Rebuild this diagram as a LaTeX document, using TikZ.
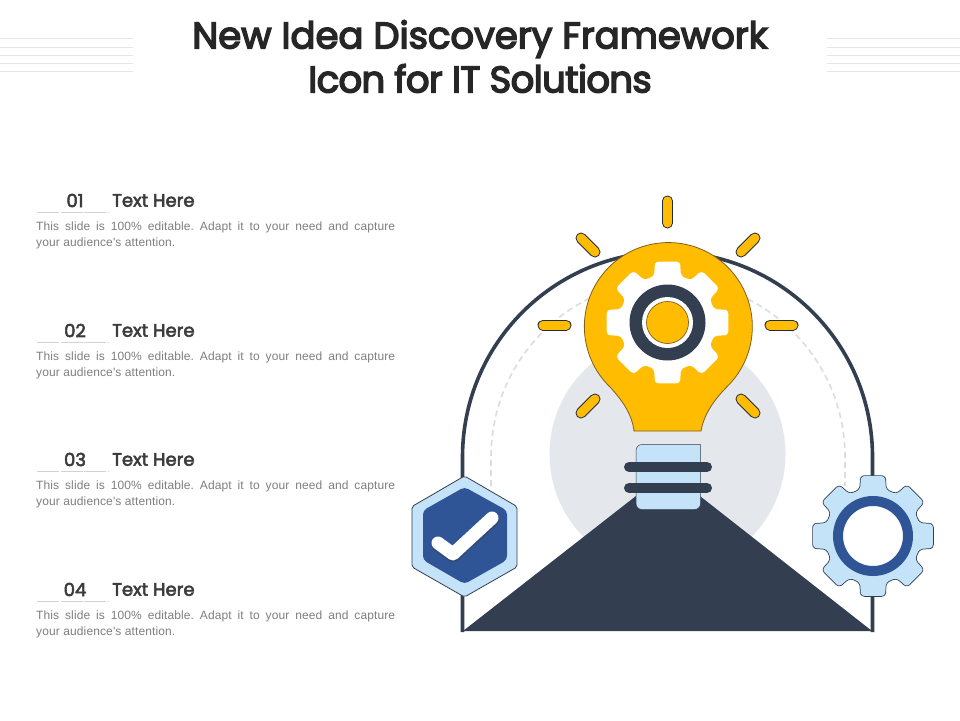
\documentclass[tikz,border=0pt]{standalone}
\usepackage{fontspec}
\newfontfamily\titlef[FakeBold=4]{Poppins}
\newfontfamily\headf[FakeBold=3]{Poppins}
\newfontfamily\bodyf[LetterSpace=1]{Liberation Sans}
\definecolor{navy}{HTML}{333F50}
\definecolor{ink}{HTML}{262626}
\definecolor{royal}{HTML}{2F5597}
\definecolor{pale}{HTML}{C5E3F8}
\definecolor{amber}{HTML}{FFBC00}
\definecolor{mist}{HTML}{E4E7EC}
\definecolor{hair}{HTML}{E6E6E6}
\definecolor{bodygrey}{HTML}{7F7F7F}
\definecolor{edgeamber}{HTML}{7F5F20}
\tikzset{
  hairline/.style={draw=hair,line width=1pt},
  rayout/.style={draw=navy!70!black,line width=11pt,line cap=round},
  rayin/.style={draw=amber,line width=9pt,line cap=round},
  titletext/.style={font=\titlef\fontsize{37}{44}\selectfont,text=ink,align=center,inner sep=0pt},
  numtext/.style={font=\headf\fontsize{18}{20}\selectfont,text=ink!90,inner sep=0pt},
  headtext/.style={font=\headf\fontsize{18}{20}\selectfont,text=ink!90,inner sep=0pt,anchor=west},
  bodytext/.style={font=\bodyf\fontsize{12}{16}\selectfont\frenchspacing,text=bodygrey,inner sep=0pt,text width=359pt,align=justify,anchor=north west},
}
% gear outline centred on the current shift: outer radius #1, root radius #2
\newcommand{\gearpath}[2]{%
  (-22.5:#2) \foreach \a in {0,45,...,315} {
    .. controls ({\a-18}:#2) and ({\a-15}:{#2+1}) .. ({\a-13.5}:{#1-6})
    .. controls ({\a-12.5}:{#1-2}) and ({\a-12}:#1) .. ({\a-8}:#1)
    -- ({\a+8}:#1)
    .. controls ({\a+12}:#1) and ({\a+12.5}:{#1-2}) .. ({\a+13.5}:{#1-6})
    .. controls ({\a+15}:{#2+1}) and ({\a+18}:#2) .. ({\a+22.5}:#2)
  } -- cycle}
\begin{document}
\begin{tikzpicture}[x=1pt,y=-1pt]
\useasboundingbox (0,0) rectangle (960,720);
\fill[white] (0,0) rectangle (960,720);
% header rules
\foreach \y in {38.5,47,55,63,71} {
  \draw[hairline] (0,\y) -- (133,\y);
  \draw[hairline] (827,\y) -- (960,\y);
}
\node[titletext] (title) at (480,56.5) {New Idea Discovery Framework\\{\addfontfeature{LetterSpace=-1.8}Icon for IT Solutions}};
% text rows
\foreach \n/\y in {01/0,02/130,03/259,04/389} {
  \draw[hair!80!gray,line width=.8pt,dash pattern=on 22pt off 1.5pt] (37,212.5+\y) -- (108,212.5+\y);
  \node[numtext] (num\n) at (75,200.5+\y) {\n};
  \node[headtext] (head\n) at (112,200.5+\y) {Text Here};
  \node[bodytext] (body\n) at (36,222+\y) {This slide is 100\% editable. Adapt it to your need and capture\linebreak your audience's attention.};
}
% backdrop
\fill[mist] (667.5,454) circle[radius=118];
\draw[hair!90!gray,line width=1.6pt,dash pattern=on 6pt off 4pt] (491,486) -- (491,457) arc[start angle=180,end angle=360,radius=177] -- (845,486);
\draw[navy,line width=3.6pt] (462.5,632) -- (462.5,457) arc[start angle=180,end angle=360,radius=205] -- (872.5,632);
\fill[navy] (463,631) -- (668,471) -- (872,631) -- cycle;
% rays
\foreach \xa/\ya/\xb/\yb in {667.5/201/667.5/223, 543/325/566/325, 770/325/793/325, 581/238/595/252, 755/238/741/252, 595/399/581/413, 741/399/755/413} {
  \draw[rayout] (\xa,\ya) -- (\xb,\yb);
  \draw[rayin] (\xa,\ya) -- (\xb,\yb);
}
% socket
\draw[navy,fill=pale,line width=.5pt,rounded corners=6pt] (636,509.5) -- (636,444.5) [sharp corners] -- (700.5,444.5) [rounded corners=6pt] -- (700.5,509.5) -- cycle;
\draw[navy,line width=10pt,line cap=round] (629,467) -- (707,467);
\draw[navy,line width=10pt,line cap=round] (629,488) -- (707,488);
% bulb
\draw[draw=edgeamber,fill=amber,line width=.8pt]
  (634,431) .. controls (632,414) and (622,400) .. (610,387)
  arc[start angle=134,end angle=406,radius=84]
  .. controls (714,400) and (704,414) .. (701,431) -- cycle;
\begin{scope}[shift={(667.5,322.5)}]
  \fill[white] \gearpath{61.5}{48};
  \fill[navy] (0,0) circle[radius=38];
  \fill[white] (0,0) circle[radius=25.5];
  \draw[edgeamber,fill=amber,line width=.7pt] (0,0) circle[radius=21];
\end{scope}
% hexagon badge
\draw[navy,fill=pale,line width=.8pt,line join=round,rounded corners=2pt] (464.5,476) -- (517,506.5) -- (517,567) -- (464.5,597) -- (412,567) -- (412,506.5) -- cycle;
\fill[royal,rounded corners=4pt] (464.5,487) -- (507,510.5) -- (507,560) -- (464.5,584) -- (423,560) -- (423,510.5) -- cycle;
\draw[navy,opacity=.45,line width=13pt,line cap=round,line join=round] (438,545) -- (453,556) -- (493,520);
\draw[white,line width=13pt,line cap=round,line join=round] (438,543) -- (453,554) -- (492,518);
% right gear
\begin{scope}[shift={(873,536)}]
  \draw[navy,fill=pale,line width=.7pt] \gearpath{61}{48};
  \draw[royal,fill=white,line width=10pt] (0,0) circle[radius=35];
\end{scope}
\end{tikzpicture}
\end{document}
